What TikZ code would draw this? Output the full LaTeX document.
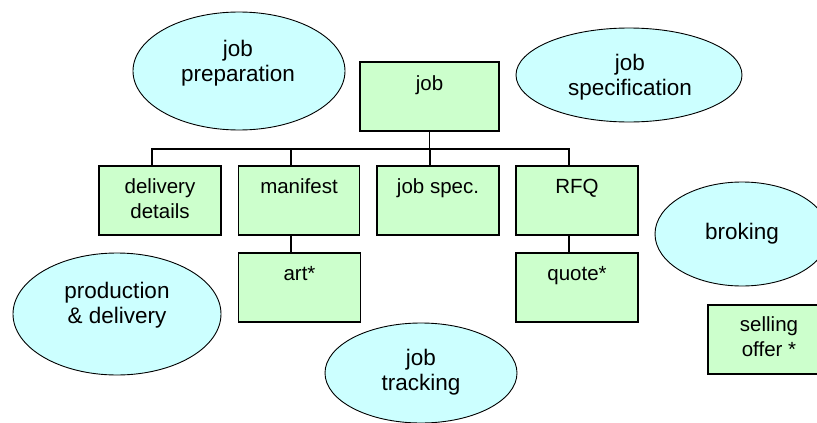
\documentclass[tikz,border=0pt]{standalone}
\usepackage{fontspec}
\setmainfont{Liberation Sans}
\usetikzlibrary{shapes.geometric}
\definecolor{boxgreen}{HTML}{CCFFCC}
\definecolor{ovalcyan}{HTML}{CCFFFF}
% zero-width strut that fixes where the first baseline sits below a label's top
\newcommand\firstline[1]{\rule{0pt}{#1}}

\begin{document}
\begin{tikzpicture}[x=1pt,y=-1pt,
  entity/.style={draw=black, line width=1.1pt, fill=boxgreen,
    minimum width=122pt, minimum height=69pt, inner sep=0pt, outer sep=0pt,
    anchor=north west},
  process/.style={ellipse, draw=black, line width=0.9pt, fill=ovalcyan,
    inner sep=0pt, outer sep=0pt},
  boxlabel/.style={anchor=north, inner sep=0pt, align=center,
    font=\fontsize{20.5}{25}\selectfont},
  ovallabel/.style={anchor=north, inner sep=0pt, align=center,
    font=\fontsize{22.5}{25}\selectfont},
  link/.style={draw=black, line width=1.1pt}]

\useasboundingbox (0,0) rectangle (817,423);
\clip (0,0) rectangle (817,423);

% processes
\node[process, minimum width=212pt, minimum height=118pt] (prep) at (239,71) {};
\node[process, minimum width=226pt, minimum height=94pt]  (spec) at (629,75) {};
\node[process, minimum width=174pt, minimum height=104pt] (brok) at (742,234) {};
\node[process, minimum width=208pt, minimum height=122pt] (prod) at (117,314) {};
\node[process, minimum width=192pt, minimum height=100pt] (track) at (421,373) {};

\node[ovallabel] (preptxt)  at (238,39)  {\firstline{17pt}job\\preparation};
\node[ovallabel] (spectxt)  at (630,53)  {\firstline{17pt}job\\specification};
\node[ovallabel] (broktxt)  at (742,222) {\firstline{17pt}broking};
\node[ovallabel] (prodtxt)  at (117,281) {\firstline{17pt}production\\\& delivery};
\node[ovallabel] (tracktxt) at (421,348) {\firstline{17pt}job\\tracking};

% entities
\node[entity, minimum width=139pt] (job) at (360,62) {};
\node[entity] (deliv) at (99,166)  {};
\node[entity, minimum width=121pt] (mani) at (238.5,166) {};
\node[entity] (jspec) at (377,166) {};
\node[entity] (rfq)   at (516,166) {};
\node[entity] (art)   at (238.5,253) {};
\node[entity] (quote) at (516,253) {};
\node[entity] (sell)  at (708,305) {};

\node[boxlabel] (jobtxt)   at ([yshift=-12pt]job.north)   {\firstline{16pt}job};
\node[boxlabel] (delivtxt) at ([yshift=-11.5pt]deliv.north) {\firstline{16pt}delivery\\details};
\node[boxlabel] (manitxt)  at ([yshift=-11.5pt]mani.north)  {\firstline{16pt}manifest};
\node[boxlabel] (jspectxt) at ([yshift=-11.5pt]jspec.north) {\firstline{16pt}job spec.};
\node[boxlabel] (rfqtxt)   at ([yshift=-11.5pt]rfq.north)   {\firstline{16pt}RFQ};
\node[boxlabel] (arttxt)   at ([yshift=-11.5pt]art.north)   {\firstline{16pt}art*};
\node[boxlabel] (quotetxt) at ([yshift=-11.5pt]quote.north) {\firstline{16pt}quote*};
\node[boxlabel] (selltxt)  at ([yshift=-10pt]sell.north)    {\firstline{16pt}selling\\offer *};

% tree connectors
\coordinate (bus) at (0,149);
\draw[link] (job.south) -- (job.south |- bus);
\draw[link] ([xshift=-8pt]deliv.north) |- ([xshift=-8pt]rfq.north |- bus) -- ([xshift=-8pt]rfq.north);
\draw[link] ([xshift=-8pt]mani.north) -- ([xshift=-8pt]mani.north |- bus);
\draw[link] ([xshift=-8pt]jspec.north) -- ([xshift=-8pt]jspec.north |- bus);
\draw[link] ([xshift=-8pt]mani.south) -- ([xshift=-8pt]mani.south |- art.north);
\draw[link] ([xshift=-8pt]rfq.south) -- ([xshift=-8pt]rfq.south |- quote.north);
\end{tikzpicture}
\end{document}
